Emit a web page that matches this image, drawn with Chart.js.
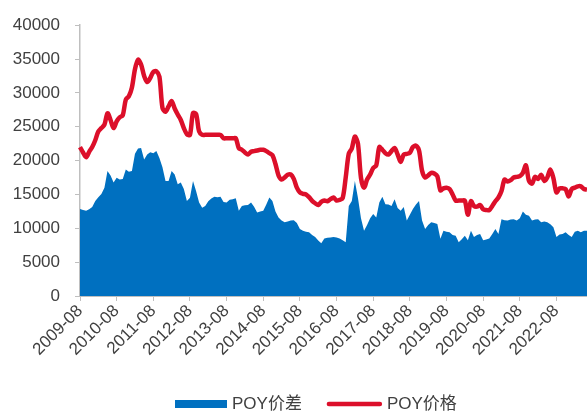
<!DOCTYPE html>
<html>
<head>
<meta charset="utf-8">
<script src="https://cdn.jsdelivr.net/npm/chart.js@4/dist/chart.umd.min.js"></script>
<style>
  html, body { margin: 0; padding: 0; background: #fff; }
  #wrap { width: 587px; height: 412px; position: relative; }
</style>
</head>
<body>
<div id="wrap"><canvas id="c"></canvas></div>
<script>
// Monthly POY price and POY spread, 2009-08 .. 2023-06 (yuan/ton)
const startYear = 2009, startMonth = 8, monthCount = 167;
const months = [];
for (let i = 0; i < monthCount; i++) {
  const m = startMonth - 1 + i;
  const y = startYear + Math.floor(m / 12);
  months.push(y + '-' + String((m % 12) + 1).padStart(2, '0'));
}

const poyPrice = [
  22000, 21200, 20500, 21300, 22000, 23000, 24300, 24800, 25300, 27000,
  26000, 24800, 25800, 26400, 26700, 29000, 29500, 30800, 33500, 34900,
  34200, 32500, 31600, 32200, 33100, 33200, 32400, 27800, 27200, 28000,
  28800, 27700, 26800, 26000, 24800, 23900, 23800, 27000, 26900, 24300,
  23800, 23800, 23800, 23800, 23800, 23800, 23800, 23300, 23300, 23300,
  23300, 23300, 21850, 21600, 21200, 20900, 21300, 21400, 21500, 21600,
  21600, 21400, 21100, 20800, 19500, 17800, 17200, 17500, 17900, 17950,
  17300, 16000, 15300, 15100, 15000, 14600, 14050, 13700, 13450, 13900,
  14100, 14000, 14300, 14550, 14100, 14200, 14450, 17500, 21000, 21800,
  23550, 22500, 17450, 16000, 17200, 17950, 18900, 19300, 22000, 21600,
  21100, 20900, 21400, 21850, 20900, 19800, 20900, 21000, 21150, 22000,
  22200, 21500, 18500, 17500, 17800, 18200, 18100, 17700, 15600, 15900,
  16000, 15800, 15000, 14100, 14100, 14100, 14100, 12000, 14000, 13300,
  13200, 13450, 12800, 12700, 12700, 13300, 14000, 14550, 15500, 17200,
  16900, 17100, 17500, 17600, 17700, 18200, 19300, 17000, 16600, 17600,
  17300, 17900, 17000, 17500, 18700, 17400, 15300, 15900, 15900, 15800,
  14700, 15800, 16000, 16200, 16200, 15800, 15700
];

const poySpread = [
  12850, 12700, 12600, 12800, 13150, 14050, 14600, 15050, 16000, 18450,
  17800, 16750, 17450, 17200, 17300, 18700, 18350, 18450, 21000, 21800,
  21850, 20150, 20900, 21250, 21100, 21400, 20400, 19000, 17000, 17000,
  18450, 17950, 16500, 16750, 15800, 14050, 14500, 17000, 15500, 13800,
  13050, 13300, 14000, 14400, 14650, 14600, 14650, 13900, 13800, 14200,
  14300, 14450, 12600, 13300, 13400, 13450, 13800, 13200, 12350, 12500,
  12600, 13500, 14550, 14050, 12500, 11600, 11150, 10900, 11000, 11150,
  11200, 10800, 9900, 9650, 9500, 9400, 9000, 8700, 8200, 7800,
  8500, 8600, 8650, 8700, 8650, 8500, 8250, 7950, 13300, 14050,
  17000, 14500, 11500, 9650, 10500, 11500, 12100, 11600, 13800, 14650,
  13550, 13500, 13300, 14300, 13000, 12600, 13150, 11150, 12000, 12850,
  13500, 14050, 11150, 9900, 10500, 10900, 10800, 10650, 8450, 9650,
  9500, 9400, 9000, 8900, 7950, 8400, 8900, 8250, 9650, 8700,
  9000, 9150, 8250, 8350, 8500, 9150, 9900, 9150, 11350, 11200,
  11150, 11300, 11350, 11150, 11500, 12500, 12000, 11850, 11150, 11300,
  11350, 10900, 11000, 10900, 10600, 10150, 8700, 9100, 9150, 9400,
  9000, 8700, 9500, 9650, 9400, 9650, 9650
];

const yTicks = [0, 5000, 10000, 15000, 20000, 25000, 30000, 35000, 40000];
const seriesNames = ['POY价差', 'POY价格'];

const BLUE = '#0070C0';
const RED = '#DC0F2A';
const AXIS = '#BFBFBF';
const TEXT = '#404040';
const FONT = "'Liberation Sans', Arial, 'Noto Sans CJK SC', sans-serif";

// Legend along the bottom: blue swatch for the spread, red rounded line for the price.
const bottomLegend = {
  id: 'bottomLegend',
  afterDraw(chart) {
    const ctx = chart.ctx;
    ctx.save();
    ctx.font = '17px ' + FONT;
    ctx.fillStyle = TEXT;
    ctx.textBaseline = 'middle';
    const cy = 404;
    let x = 175;
    // spread swatch
    ctx.fillStyle = BLUE;
    ctx.fillRect(x, cy - 4, 52, 8);
    x += 52 + 5;
    ctx.fillStyle = TEXT;
    ctx.fillText(seriesNames[0], x, cy);
    x += ctx.measureText(seriesNames[0]).width + 25;
    // price line
    ctx.strokeStyle = RED;
    ctx.lineWidth = 4.5;
    ctx.lineCap = 'round';
    ctx.beginPath();
    ctx.moveTo(x + 2, cy);
    ctx.lineTo(x + 53, cy);
    ctx.stroke();
    x += 55 + 5;
    ctx.fillText(seriesNames[1], x, cy);
    ctx.restore();
  }
};

new Chart(document.getElementById('c'), {
  type: 'line',
  data: {
    labels: months,
    datasets: [
      {
        label: seriesNames[1],
        data: poyPrice,
        borderColor: RED,
        backgroundColor: RED,
        borderWidth: 4.5,
        pointRadius: 0,
        tension: 0.3,
        fill: false,
        order: 0
      },
      {
        label: seriesNames[0],
        data: poySpread,
        borderColor: BLUE,
        backgroundColor: BLUE,
        borderWidth: 0,
        pointRadius: 0,
        tension: 0,
        fill: 'origin',
        order: 1
      }
    ]
  },
  plugins: [bottomLegend],
  options: {
    responsive: true,
    maintainAspectRatio: false,
    animation: false,
    layout: { padding: { top: 14, right: 0, left: 0, bottom: 30 } },
    plugins: {
      tooltip: { enabled: false },
      legend: { display: false }
    },
    scales: {
      x: {
        type: 'category',
        offset: false,
        afterFit: (scale) => { scale.height = 86; },
        border: { color: AXIS, width: 2 },
        grid: { drawOnChartArea: false, color: AXIS, tickLength: 5, lineWidth: 1 },
        ticks: {
          autoSkip: false,
          minRotation: 45,
          maxRotation: 45,
          padding: 0,
          color: TEXT,
          font: { family: FONT, size: 17 },
          callback: function (value, index) {
            const lab = months[index];
            return lab.endsWith('-08') ? lab : null;
          }
        }
      },
      y: {
        min: 0,
        max: 40000,
        afterFit: (scale) => { scale.width = 80; },
        afterBuildTicks: (scale) => { scale.ticks = yTicks.map(v => ({ value: v })); },
        border: { color: AXIS, width: 1.5 },
        grid: { drawOnChartArea: false, color: AXIS, tickLength: 5 },
        ticks: {
          color: TEXT,
          padding: 15,
          font: { family: FONT, size: 17 },
          callback: (v) => String(v)
        }
      }
    }
  }
});
</script>
</body>
</html>
